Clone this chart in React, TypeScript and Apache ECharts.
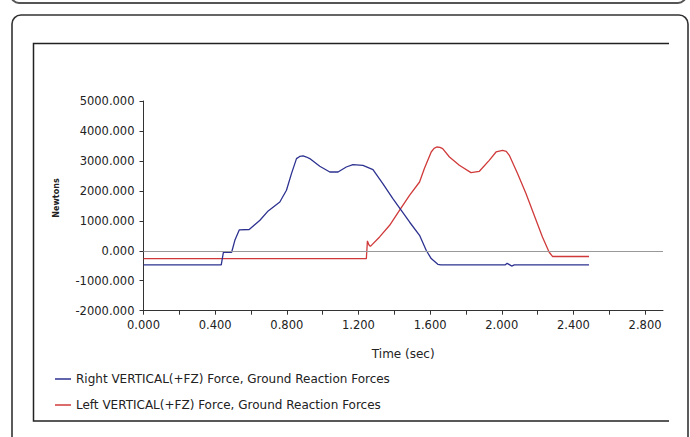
import React, { useEffect, useRef } from "react";
import * as echarts from "echarts";

const rightTime = [0, 0.434, 0.446, 0.492, 0.51, 0.535, 0.59, 0.65, 0.696, 0.761, 0.798, 0.826, 0.854, 0.872, 0.891, 0.91, 0.928, 0.984, 1.04, 1.086, 1.132, 1.169, 1.206, 1.225, 1.281, 1.336, 1.392, 1.439, 1.485, 1.541, 1.578, 1.606, 1.643, 1.66, 2.02, 2.03, 2.045, 2.055, 2.07, 2.487];
const rightForce = [-470, -470, -50, -50, 350, 700, 710, 1020, 1330, 1630, 2020, 2575, 3077, 3150, 3165, 3130, 3077, 2820, 2630, 2630, 2797, 2877, 2860, 2850, 2710, 2243, 1742, 1352, 961, 517, 17, -260, -450, -470, -470, -420, -470, -510, -470, -470];

const leftTime = [0, 1.244, 1.25, 1.258, 1.266, 1.272, 1.318, 1.374, 1.429, 1.485, 1.541, 1.568, 1.606, 1.622, 1.637, 1.655, 1.67, 1.708, 1.763, 1.828, 1.875, 1.93, 1.968, 2.004, 2.025, 2.042, 2.088, 2.135, 2.181, 2.227, 2.264, 2.283, 2.487];
const leftForce = [-262, -262, 330, 200, 150, 180, 462, 851, 1352, 1852, 2296, 2744, 3298, 3420, 3465, 3450, 3410, 3131, 2854, 2610, 2654, 3020, 3298, 3354, 3320, 3187, 2577, 1909, 1185, 462, -40, -190, -190];

const xTickValues = [0, 0.2, 0.4, 0.6, 0.8, 1.0, 1.2, 1.4, 1.6, 1.8, 2.0, 2.2, 2.4, 2.6, 2.8];
const xLabelValues = [0, 0.4, 0.8, 1.2, 1.6, 2.0, 2.4, 2.8];

const seriesNames = [
  "Right VERTICAL(+FZ) Force, Ground Reaction Forces",
  "Left VERTICAL(+FZ) Force, Ground Reaction Forces",
];
const FONT = "DejaVu Sans";

export default function App() {
  const ref = useRef<HTMLDivElement>(null);
  useEffect(() => {
    if (!ref.current) return;
    const chart = echarts.init(ref.current, null, { renderer: "svg" });
    const right = rightTime.map((t, i) => [t, rightForce[i]]);
    const left = leftTime.map((t, i) => [t, leftForce[i]]);
    chart.setOption({
      animation: false,
      backgroundColor: "#ffffff",
      textStyle: { fontFamily: FONT },
      grid: { left: 143.5, top: 101, right: 27, bottom: 126.3, containLabel: false },
      xAxis: {
        type: "value",
        min: 0,
        max: 2.9,
        interval: 0.2,
        name: "Time (sec)",
        nameLocation: "middle",
        nameGap: 37,
        nameTextStyle: { fontFamily: FONT, fontSize: 12, color: "#222" },
        axisLine: { show: true, onZero: false, lineStyle: { color: "#333", width: 1 } },
        axisTick: { show: true, length: 4, lineStyle: { color: "#333" }, customValues: xTickValues },
        axisLabel: {
          fontFamily: FONT,
          fontSize: 11.5,
          color: "#222",
          margin: 8,
          customValues: xLabelValues,
          formatter: (v: number) => v.toFixed(3),
        },
        splitLine: { show: false },
      },
      yAxis: {
        type: "value",
        min: -2000,
        max: 5000,
        interval: 1000,
        axisLine: { show: true, onZero: false, lineStyle: { color: "#333", width: 1 } },
        axisTick: { show: true, length: 4, lineStyle: { color: "#333" } },
        axisLabel: {
          fontFamily: FONT,
          fontSize: 11.5,
          color: "#222",
          margin: 9,
          formatter: (v: number) => v.toFixed(3),
        },
        splitLine: { show: false },
      },
      legend: {
        orient: "vertical",
        left: 50,
        top: 367,
        itemWidth: 16,
        itemHeight: 1.5,
        itemGap: 12,
        icon: "rect",
        textStyle: { fontFamily: FONT, fontSize: 12, color: "#222", lineHeight: 14 },
        data: seriesNames,
      },
      series: [
        {
          name: seriesNames[0],
          type: "line",
          data: right,
          showSymbol: false,
          symbol: "none",
          lineStyle: { color: "#2d3290", width: 1.3 },
          itemStyle: { color: "#2d3290" },
          z: 3,
          markLine: {
            silent: true,
            symbol: "none",
            label: { show: false },
            lineStyle: { color: "#999", type: "solid", width: 1 },
            data: [{ yAxis: 0 }],
          },
        },
        {
          name: seriesNames[1],
          type: "line",
          data: left,
          showSymbol: false,
          symbol: "none",
          lineStyle: { color: "#d03a3a", width: 1.3 },
          itemStyle: { color: "#d03a3a" },
          z: 2,
        },
      ],
      graphic: [
        {
          type: "rect",
          shape: { x: 11, y: -30, width: 675, height: 33, r: 8 },
          style: { fill: "none", stroke: "#555", lineWidth: 2 },
          silent: true,
        },
        {
          type: "rect",
          shape: { x: 12, y: 15, width: 676, height: 460, r: 9 },
          style: { fill: "none", stroke: "#333", lineWidth: 1.6 },
          silent: true,
        },
        {
          type: "polyline",
          shape: { points: [[669, 43.5], [33.5, 43.5], [33.5, 421], [669, 421]] },
          style: { fill: "none", stroke: "#222", lineWidth: 1.5 },
          silent: true,
        },
        {
          type: "text",
          x: 56,
          y: 198,
          rotation: Math.PI / 2,
          style: {
            text: "Newtons",
            fontFamily: FONT,
            fontSize: 8,
            fontWeight: "bold",
            fill: "#222",
            align: "center",
            verticalAlign: "middle",
          },
          silent: true,
        },
      ],
    });
    return () => chart.dispose();
  }, []);
  return (
    <div
      ref={ref}
      style={{ position: "fixed", left: 0, top: 0, width: 690, height: 437, background: "#fff" }}
    />
  );
}
